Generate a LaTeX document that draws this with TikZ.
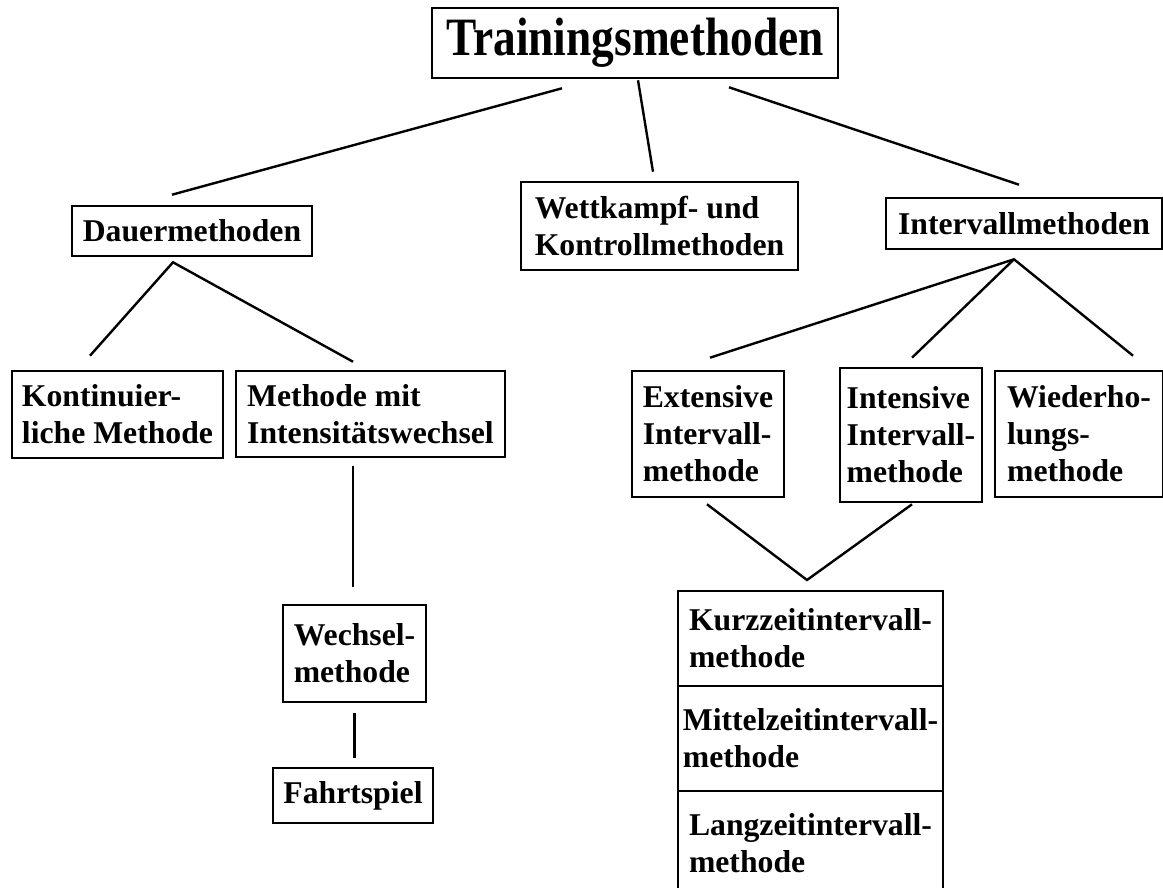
\documentclass[tikz,border=0pt]{standalone}
\usepackage{fontspec}
\setmainfont{Liberation Serif}
\newfontfamily\titlefont[FakeStretch=0.84]{Liberation Serif}
\usetikzlibrary{positioning}
\tikzset{
  mbox/.style={rectangle, draw=black, line width=1.3pt, align=left,
    inner sep=0pt, font=\fontsize{15.85}{18.5}\selectfont\bfseries},
  titlebox/.style={rectangle, draw=black, line width=1.3pt, inner sep=0pt,
    font=\titlefont\fontsize{27}{31}\selectfont\bfseries},
  cell/.style={mbox, minimum width=132.5pt, outer sep=0pt},
  link/.style={line width=1.2pt, color=black}
}

\begin{document}
\begin{tikzpicture}[x=0.5pt, y=-0.5pt]
  \clip (0,0) rectangle (1163,888);

  % Top level
  \node[titlebox, minimum width=203pt, minimum height=35pt] (title) at (635,43) {Trainingsmethoden};

  \node[mbox, minimum width=120pt, minimum height=25pt] (dauer) at (192,231) {Dauermethoden};
  \node[mbox, minimum width=138.5pt, minimum height=44pt] (wett) at (659.5,226) {Wettkampf- und\\Kontrollmethoden};
  \node[mbox, minimum width=138pt, minimum height=25.5pt] (intv) at (1024,223.5) {Intervallmethoden};

  % Dauermethoden branch
  \node[mbox, minimum width=105.5pt, minimum height=43.5pt] (kont) at (117.5,414.5) {Kontinuier-\\liche Methode};
  \node[mbox, minimum width=134.5pt, minimum height=43pt] (meth) at (370.5,414) {Methode mit\\Intensitätswechsel};
  \node[mbox, minimum width=71.5pt, minimum height=48.5pt] (wechsel) at (354.5,653.5) {Wechsel-\\methode};
  \node[mbox, minimum width=80pt, minimum height=27.5pt] (fahrt) at (353,795.5) {Fahrtspiel};

  % Intervallmethoden branch
  \node[mbox, minimum width=76pt, minimum height=63pt] (ext) at (708,434) {Extensive\\Intervall-\\methode};
  \node[mbox, minimum width=71pt, minimum height=67pt] (intn) at (911,435) {Intensive\\Intervall-\\methode};
  \node[mbox, minimum width=84pt, minimum height=63pt] (wied) at (1079,434) {Wiederho-\\lungs-\\methode};

  % Stacked cells, open at the bottom edge
  \node[cell, minimum height=47.5pt] (kurz) at (810.5,638.5) {Kurzzeitintervall-\\methode};
  \node[cell, minimum height=52.5pt, below=0pt of kurz] (mittel) {Mittelzeitintervall-\\methode};
  \node[cell, minimum height=52pt, below=0pt of mittel] (lang) {Langzeitintervall-\\methode};

  % Fork points
  \coordinate (dfork) at ([shift={(-19,5)}]dauer.south);
  \coordinate (ifork) at ([shift={(-10,9)}]intv.south);
  \coordinate (cfork) at ([shift={(-3.5,-11)}]kurz.north);

  % Connectors
  \draw[link] ([shift={(-73,9)}]title.south) -- ([shift={(-20,-10)}]dauer.north);
  \draw[link] ([shift={(3,1)}]title.south) -- ([shift={(-6.5,-9)}]wett.north);
  \draw[link] ([shift={(94,8)}]title.south) -- ([shift={(-5,-12)}]intv.north);

  \draw[link] ([shift={(-27.5,-14)}]kont.north) -- (dfork) -- ([shift={(-17.5,-8)}]meth.north);
  \draw[link] ([shift={(-17.5,8)}]meth.south) -- ([shift={(-1.5,-17)}]wechsel.north);
  \draw[link] ([shift={(0,10)}]wechsel.south) -- ([shift={(1.5,-9)}]fahrt.north);

  \draw[link] ([shift={(2,-12)}]ext.north) -- (ifork) -- ([shift={(54,-14)}]wied.north);
  \draw[link] (ifork) -- ([shift={(1,-9)}]intn.north);

  \draw[link] ([shift={(-1,6)}]ext.south) -- (cfork) -- ([shift={(1,1)}]intn.south);
\end{tikzpicture}
\end{document}
